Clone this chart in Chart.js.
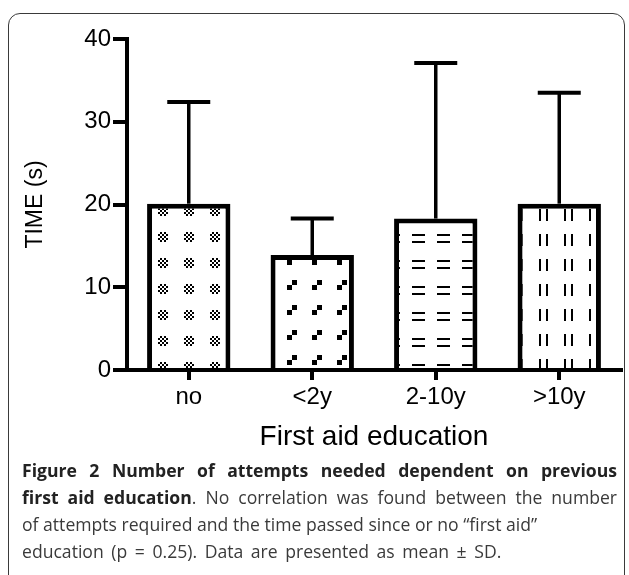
<!DOCTYPE html>
<html><head><meta charset="utf-8">
<script src="https://cdn.jsdelivr.net/npm/chart.js@4.4.1/dist/chart.umd.min.js"></script>
<style>
html,body{margin:0;padding:0;background:#fff;width:629px;height:575px;overflow:hidden;position:relative}
#frame{position:absolute;left:8px;top:13px;width:617px;height:640px;border:1.5px solid #3a3a3a;border-radius:12px;box-sizing:border-box}
#c{position:absolute;left:0;top:0}
#cap{position:absolute;left:22px;top:457px;width:595px;font-family:"Open Sans",sans-serif;font-size:17.6px;line-height:27px;color:#3a3a3a}
#cap div{white-space:nowrap}
#cap .j{text-align:justify;text-align-last:justify;white-space:normal}
#cap .w{word-spacing:3px}
#cap b{color:#222;font-weight:700}
</style></head>
<body>
<div id="frame"></div>
<canvas id="c" width="629" height="460"></canvas>
<div id="cap">
<div class="j"><b>Figure 2 Number of attempts needed dependent on previous</b></div>
<div class="j"><b>first aid education</b>. No correlation was found between the number</div>
<div>of attempts required and the time passed since or no “first aid”</div>
<div class="w">education (p = 0.25). Data are presented as mean ± SD.</div>
</div>
<script>
// ---- data ----
const categories = ['no', '<2y', '2-10y', '>10y'];
const meanTime = [20.1, 13.9, 18.3, 20.1];
const sdTime = [12.3, 4.4, 18.8, 13.4];
const yTickValues = [0, 10, 20, 30, 40];
const yAxisTitle = 'TIME (s)';
const xAxisTitle = 'First aid education';

// ---- fill patterns (style) ----
const canvas = document.getElementById('c');
const ctx = canvas.getContext('2d');
function makePattern(w, h, draw, dx, dy) {
  const t = document.createElement('canvas');
  t.width = w; t.height = h;
  const g = t.getContext('2d');
  g.fillStyle = '#fff'; g.fillRect(0, 0, w, h);
  g.fillStyle = '#000';
  const cx = Math.floor(w / 2), cy = Math.floor(h / 2);
  draw(g, cx, cy);
  return { pattern: ctx.createPattern(t, 'repeat'), cx, cy, dx, dy };
}
const patterns = [
  makePattern(26, 26, (g, cx, cy) => {
    for (let i = 0; i < 5; i++) for (let j = 0; j < 5; j++)
      if ((i + j) % 2 === 1) g.fillRect(cx - 5 + 2 * i, cy - 5 + 2 * j, 2, 2);
  }, 0, -27),
  makePattern(25, 25, (g, cx, cy) => {
    g.fillRect(cx, cy - 5, 5, 5);
    g.fillRect(cx - 5, cy, 5, 5);
  }, 5, -8),
  makePattern(25, 26, (g, cx, cy) => {
    g.fillRect(cx - 6, cy - 4, 13, 2);
    g.fillRect(cx - 6, cy + 3, 13, 2);
  }, 7, 0),
  makePattern(25, 25, (g, cx, cy) => {
    g.fillRect(cx - 4, cy - 6, 2, 12);
    g.fillRect(cx + 3, cy - 6, 2, 12);
  }, 9, -3)
];

const patternAnchor = {
  id: 'patternAnchor',
  beforeDatasetsDraw(chart) {
    chart.getDatasetMeta(0).data.forEach((bar, i) => {
      const p = patterns[i];
      p.pattern.setTransform(new DOMMatrix().translate(
        Math.round(bar.x + p.dx - p.cx), Math.round(bar.base + p.dy - p.cy)));
    });
  }
};

const errorBars = {
  id: 'errorBars',
  afterDatasetsDraw(chart) {
    const y = chart.scales.y;
    const c = chart.ctx;
    c.save();
    c.strokeStyle = '#000';
    chart.getDatasetMeta(0).data.forEach((bar, i) => {
      const top = y.getPixelForValue(meanTime[i] + sdTime[i]);
      const from = y.getPixelForValue(meanTime[i]);
      c.lineWidth = 3.5;
      c.beginPath(); c.moveTo(bar.x, from); c.lineTo(bar.x, top); c.stroke();
      c.lineWidth = 4;
      c.beginPath(); c.moveTo(bar.x - 21.5, top); c.lineTo(bar.x + 21.5, top); c.stroke();
    });
    c.restore();
  }
};

const axisFont = { family: '"Liberation Sans", Arial, sans-serif', size: 24 };
const xTitleFont = { family: '"Liberation Sans", Arial, sans-serif', size: 28 };
const yTitleFont = { family: '"Liberation Sans", Arial, sans-serif', size: 23 };

new Chart(ctx, {
  type: 'bar',
  data: {
    labels: categories,
    datasets: [{
      data: meanTime,
      backgroundColor: patterns.map(p => p.pattern),
      borderColor: '#000',
      borderWidth: 5,
      categoryPercentage: 1,
      barPercentage: 0.675
    }]
  },
  options: {
    responsive: false,
    animation: false,
    devicePixelRatio: 1,
    layout: { padding: { top: 39, right: 8, left: 0, bottom: 0 } },
    plugins: { legend: { display: false }, tooltip: { enabled: false } },
    scales: {
      x: {
        grid: { offset: false, drawOnChartArea: false, drawTicks: true, tickLength: 10, lineWidth: 4, color: '#000' },
        border: { display: true, width: 4, color: '#000' },
        ticks: { font: axisFont, color: '#000', padding: 3, maxRotation: 0 },
        title: { display: true, text: xAxisTitle, font: xTitleFont, color: '#000', padding: { top: 0, bottom: 6 } },
        afterFit(s) { s.height = 90; }
      },
      y: {
        min: 0, max: 40,
        afterBuildTicks(s) { s.ticks = yTickValues.map(v => ({ value: v })); },
        grid: { drawOnChartArea: false, drawTicks: true, tickLength: 14, lineWidth: 4, color: '#000' },
        border: { display: true, width: 4, color: '#000' },
        ticks: { font: axisFont, color: '#000', padding: 2 },
        title: { display: true, text: yAxisTitle, font: yTitleFont, color: '#000', padding: { top: 22, bottom: 0 } },
        afterFit(s) { s.width = 127; }
      }
    }
  },
  plugins: [patternAnchor, errorBars]
});
</script>
</body></html>
